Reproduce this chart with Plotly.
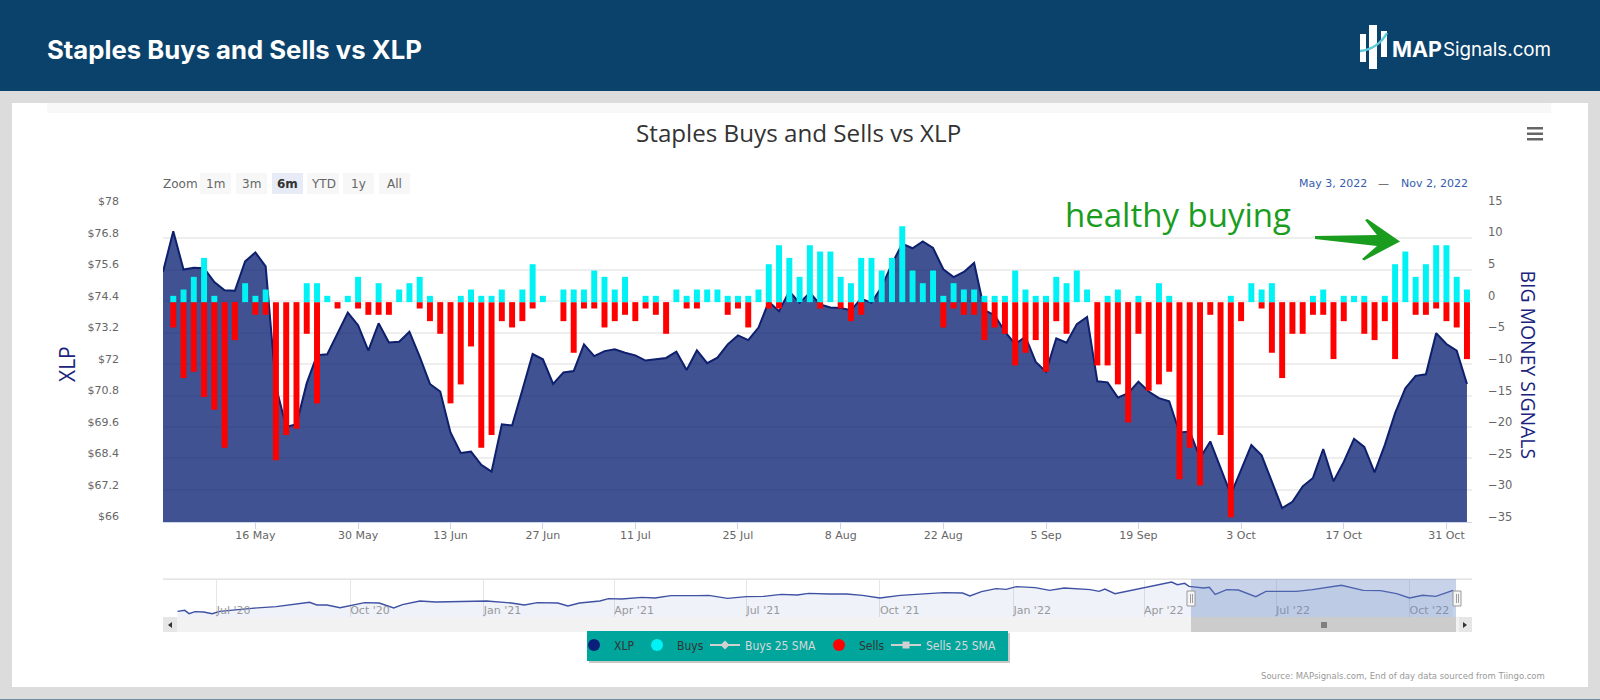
import pandas as pd
import plotly.graph_objects as go

W, H = 1600, 700

# ---- data ----
market_holidays = ["2022-05-30", "2022-06-20", "2022-07-04", "2022-09-05"]
sessions = [d.strftime("%Y-%m-%d") for d in pd.bdate_range("2022-05-03", "2022-11-02")
            if d.strftime("%Y-%m-%d") not in market_holidays]

xlp = [75.51, 77.06, 75.60, 75.67, 75.65, 75.12, 74.81, 74.79, 75.91, 76.25, 75.72, 71.14, 69.60, 69.71, 71.27, 72.34,
       72.37, 73.17, 73.96, 73.48, 72.51, 73.55, 72.82, 72.85, 73.23, 72.28, 71.24, 70.95, 69.39, 68.61, 68.66, 68.16,
       67.90, 69.70, 69.66, 71.01, 72.38, 72.18, 71.24, 71.68, 71.73, 72.75, 72.30, 72.49, 72.56, 72.43, 72.33, 72.13,
       72.17, 72.23, 72.47, 71.77, 72.52, 72.03, 72.24, 72.75, 73.09, 72.91, 73.39, 74.37, 74.01, 74.77, 74.33, 74.72,
       74.27, 74.15, 74.13, 74.05, 74.49, 74.33, 74.94, 75.82, 76.58, 76.41, 76.67, 76.42, 75.61, 75.31, 75.51, 75.85,
       74.05, 73.86, 73.23, 72.76, 73.04, 72.08, 71.71, 72.98, 72.81, 73.52, 73.79, 71.34, 71.30, 70.72, 70.89, 71.33,
       70.95, 70.70, 70.58, 69.39, 69.43, 68.42, 69.05, 68.04, 67.03, 67.97, 68.91, 68.52, 67.53, 66.51, 66.75, 67.34,
       67.66, 68.76, 67.53, 68.27, 69.15, 68.84, 67.87, 68.92, 70.13, 71.08, 71.55, 71.61, 73.17, 72.76, 72.51, 71.24]

buys = [0, 1, 2, 4, 7, 1, 0, 0, 3, 1, 2, 0, 0, 0, 3, 3,
        1, 0, 1, 4, 0, 3, 0, 2, 3, 4, 1, 0, 0, 1, 2, 1,
        1, 2, 0, 2, 6, 1, 0, 2, 2, 2, 5, 4, 2, 4, 0, 1,
        1, 0, 2, 1, 2, 2, 2, 1, 1, 1, 2, 6, 9, 7, 4, 9,
        8, 8, 4, 3, 7, 7, 5, 7, 12, 5, 3, 5, 1, 3, 2, 2,
        1, 1, 1, 5, 2, 1, 1, 4, 3, 5, 2, 0, 1, 2, 0, 1,
        0, 3, 1, 0, 0, 0, 0, 0, 1, 0, 3, 2, 3, 0, 0, 0,
        1, 2, 0, 1, 1, 1, 0, 1, 6, 8, 4, 6, 9, 9, 4, 2]

sells = [0, -4, -12, -11, -15, -17, -23, -6, 0, -2, -2, -25, -21, -20, -5, -16,
         0, -1, 0, -1, -2, -2, -2, 0, 0, -1, -3, -5, -16, -13, -7, -23,
         -21, -3, -4, -3, -1, 0, 0, -3, -8, -1, -1, -4, -3, -2, -3, -1,
         -2, -5, 0, -1, -1, 0, 0, -2, -1, -4, 0, -1, -1, 0, 0, 0,
         -1, 0, -1, -3, -2, 0, 0, 0, 0, 0, 0, 0, -4, -1, -2, -2,
         -6, -4, -5, -10, -8, -6, -11, -3, -5, 0, 0, -10, -10, -13, -19, -5,
         -14, -13, -11, -28, -23, -29, -2, -21, -34, -3, 0, -1, -8, -12, -5, -5,
         -2, -2, -9, -3, 0, -5, -6, -3, -9, 0, -2, -2, -1, -3, -4, -9]

assert len(sessions) == len(xlp) == len(buys) == len(sells) == 128

nav_dates = ["2020-06-04", "2020-06-09", "2020-06-12", "2020-06-16", "2020-06-22", "2020-06-28", "2020-07-03",
             "2020-07-13", "2020-07-25", "2020-08-11", "2020-08-26", "2020-09-03", "2020-09-08", "2020-09-15",
             "2020-09-24", "2020-10-03", "2020-10-11", "2020-10-21", "2020-10-31", "2020-11-06", "2020-11-18",
             "2020-11-29", "2020-12-16", "2021-01-03", "2021-01-20", "2021-01-29", "2021-02-07", "2021-02-21",
             "2021-02-28", "2021-03-08", "2021-03-22", "2021-03-28", "2021-04-06", "2021-04-20", "2021-04-29",
             "2021-05-10", "2021-05-28", "2021-06-05", "2021-06-18", "2021-07-01", "2021-07-13", "2021-07-25",
             "2021-08-05", "2021-08-13", "2021-08-27", "2021-09-08", "2021-09-19", "2021-10-01", "2021-10-15",
             "2021-10-30", "2021-11-14", "2021-11-27", "2021-12-02", "2021-12-10", "2021-12-20", "2021-12-27",
             "2022-01-03", "2022-01-16", "2022-01-26", "2022-02-05", "2022-02-23", "2022-03-01", "2022-03-05",
             "2022-03-12", "2022-03-21", "2022-04-04", "2022-04-13", "2022-04-20", "2022-04-24", "2022-04-29",
             "2022-05-02", "2022-05-12", "2022-05-16", "2022-05-20", "2022-05-28", "2022-06-05", "2022-06-17",
             "2022-06-24", "2022-07-15", "2022-07-26", "2022-08-15", "2022-08-30", "2022-09-11", "2022-09-22",
             "2022-10-01", "2022-10-10", "2022-10-19", "2022-10-25", "2022-10-31"]
nav_xlp = [56.5, 57.25, 54.75, 56.25, 56, 54.75, 56.5, 57.75, 58.75, 60, 61.75, 63.25, 61.25, 61.25, 59.25, 61, 63,
           62.75, 59, 61.5, 64.25, 63.5, 64, 64.25, 62.75, 61.25, 63, 62.75, 60.5, 62.75, 64.25, 66, 65.75, 67, 66.5,
           68.25, 68.25, 68.5, 66.25, 67.5, 67.75, 69.25, 68.75, 70, 69.5, 69.5, 68.5, 66.5, 68.5, 69.25, 70.5, 70.25,
           68, 71.25, 73.5, 73, 75, 74.25, 72.25, 74, 72.75, 71.5, 73.25, 69.75, 71.75, 74.5, 77, 78.5, 76.5, 77.5,
           75.25, 74, 74.5, 69.25, 72.75, 72.5, 67.5, 71.5, 71.5, 72.75, 76, 72.25, 72, 69.75, 66.5, 68.5, 67.75,
           69.75, 72.25]

left_ticks = [66, 67.2, 68.4, 69.6, 70.8, 72, 73.2, 74.4, 75.6, 76.8, 78]
left_labels = ["$66", "$67.2", "$68.4", "$69.6", "$70.8", "$72", "$73.2", "$74.4", "$75.6", "$76.8", "$78"]
right_ticks = [-35, -30, -25, -20, -15, -10, -5, 0, 5, 10, 15]
right_labels = ["\u221235", "\u221230", "\u221225", "\u221220", "\u221215", "\u221210", "\u22125", "0", "5", "10", "15"]
x_tick_dates = ["2022-05-16", "2022-05-31", "2022-06-13", "2022-06-27", "2022-07-11", "2022-07-25", "2022-08-08",
                "2022-08-22", "2022-09-06", "2022-09-19", "2022-10-03", "2022-10-17", "2022-10-31"]
x_tick_labels = ["16 May", "30 May", "13 Jun", "27 Jun", "11 Jul", "25 Jul", "8 Aug", "22 Aug", "5 Sep", "19 Sep",
                 "3 Oct", "17 Oct", "31 Oct"]
nav_tick_dates = ["2020-07-01", "2020-10-01", "2021-01-01", "2021-04-01", "2021-07-01", "2021-10-01", "2022-01-01",
                  "2022-04-01", "2022-07-01", "2022-10-01"]
nav_tick_labels = ["Jul '20", "Oct '20", "Jan '21", "Apr '21", "Jul '21", "Oct '21", "Jan '22", "Apr '22", "Jul '22",
                   "Oct '22"]
zoom_buttons = ["1m", "3m", "6m", "YTD", "1y", "All"]

# ---- pixel helpers (page furniture only) ----
fx = lambda p: p / W
fy = lambda p: 1 - p / H


def rect(x0, y0, x1, y1, fill, layer="below", line=None):
    return dict(type="rect", xref="paper", yref="paper", x0=fx(x0), x1=fx(x1), y0=fy(y0), y1=fy(y1),
                fillcolor=fill, line=line or dict(width=0), layer=layer)


def path(cmds, fill=None, line=None, layer="above"):
    parts = []
    for c in cmds:
        if isinstance(c, str):
            parts.append(c)
        else:
            parts.append(f"{fx(c[0]):.5f},{fy(c[1]):.5f}")
    d = dict(type="path", xref="paper", yref="paper", path=" ".join(parts), layer=layer, line=line or dict(width=0))
    if fill:
        d["fillcolor"] = fill
    return d


def text(s, x, y, size, color, family="DejaVu Sans", anchor="left", angle=0):
    return dict(text=s, x=fx(x), y=fy(y), xref="paper", yref="paper", showarrow=False, xanchor=anchor,
                yanchor="middle", font=dict(size=size, color=color, family=family), textangle=angle,
                borderpad=0, borderwidth=0)


LABEL = "#666666"
NAVY = "#1a237e"
plot_l, plot_r, plot_t, plot_b = 163, 1472, 206, 522
nav_t, nav_b = 579, 617

shapes = [
    rect(0, 0, W, 91, "#0b426b"),
    rect(12, 103, 1588, 687, "#ffffff"),
    rect(47, 103, 1551, 113, "#f8f8f8"),
    rect(0, 699, W, 700, "#6f8ea3"),
    # logo
    rect(1360, 34, 1366, 62, "#ffffff"), rect(1369, 25, 1377, 69, "#ffffff"), rect(1381, 31, 1387, 57, "#ffffff"),
    path(["M", (1360, 51), "Q", (1378, 49), (1387, 33)], line=dict(color="#5fc9dc", width=2.5)),
    # hamburger
    rect(1527, 127, 1543, 129.5, "#666666"), rect(1527, 132.5, 1543, 135, "#666666"),
    rect(1527, 138, 1543, 140.5, "#666666"),
    # arrow next to the note
    path(["M", (1315, 236), "L", (1377, 235), "L", (1365, 220), "L", (1367.5, 219), "L", (1400, 241.5), "L", (1364, 260.5),
          "L", (1362, 259), "L", (1377, 246), "L", (1315, 239), "Z"], fill="#1a9c1e"),
    # navigator furniture
    rect(plot_l, nav_t - 0.5, plot_r, nav_t + 0.8, "#dddddd"),
    rect(plot_l, nav_b, plot_r, 632, "#f2f2f2"),
    rect(plot_l, nav_b, 177, 632, "#e6e6e6"),
    rect(1459, nav_b, plot_r, 632, "#e6e6e6"),
    rect(1191, nav_b, 1456, 632, "#cccccc"),
    rect(1191, nav_t, 1456, nav_b, "rgba(102,133,194,0.36)", layer="above"),
    rect(1187, 591, 1195, 606, "#f5f5f5", layer="above", line=dict(color="#999999", width=1)),
    rect(1453, 591, 1461, 606, "#f5f5f5", layer="above", line=dict(color="#999999", width=1)),
    path(["M", (172, 622), "L", (168, 625), "L", (172, 628), "Z"], fill="#333333"),
    path(["M", (1463, 622), "L", (1467, 625), "L", (1463, 628), "Z"], fill="#333333"),
    # legend box
    rect(589, 633, 1010, 663, "#c8c8c8"),
    rect(587, 631, 1008, 661, "#00a69c"),
]
# navigator handle grips and scrollbar thumb grip
for gx in (1190, 1192):
    shapes.append(rect(gx, 594, gx + 0.8, 603, "#888888", layer="above"))
for gx in (1456, 1458):
    shapes.append(rect(gx, 594, gx + 0.8, 603, "#888888", layer="above"))
for gx in (1321.5, 1323.5, 1325.5):
    shapes.append(rect(gx, 622, gx + 1, 628, "#333333"))

btn_x = [(200, 231), (236, 267), (272, 303), (307, 339), (343, 374), (379, 410)]
annotations = [
    text("<b>Staples Buys and Sells vs XLP</b>", 47, 49, 25.7, "#ffffff", "Inter"),
    text("<b>MAP</b>", 1392, 49, 21.5, "#ffffff", "Inter"),
    text("Signals.com", 1443, 50, 18.8, "#ffffff", "Inter"),
    text("Staples Buys and Sells vs XLP", 798, 133, 24.2, "#333333", "Open Sans", "center"),
    text("Zoom", 163, 184, 12, LABEL),
    text("May 3, 2022", 1299, 183, 11, "#335cad"),
    text("\u2014", 1383, 183, 11, "#555555", anchor="center"),
    text("Nov 2, 2022", 1468, 183, 11, "#335cad", anchor="right"),
    text("XLP", 67, 364, 21, NAVY, "Open Sans", "center", -90),
    text("BIG MONEY SIGNALS", 1528, 364.5, 19.4, NAVY, "Open Sans", "center", 90),
    text("healthy buying", 1065, 214, 33, "#1a9c1e", "Open Sans"),
    text("Source: MAPsignals.com, End of day data sourced from Tiingo.com", 1545, 676, 8.5, "#999999", anchor="right"),
]
for (x0, x1), lab in zip(btn_x, zoom_buttons):
    on = lab == "6m"
    shapes.append(rect(x0, 173, x1, 194, "#e6ebf5" if on else "#f7f7f7"))
    annotations.append(text(f"<b>{lab}</b>" if on else lab, (x0 + x1) / 2, 184, 12, "#333333" if on else LABEL, anchor="center"))

fig = go.Figure()
fig.add_trace(go.Scatter(x=sessions, y=xlp, mode="lines", name="XLP", showlegend=False, fill="tozeroy",
                         line=dict(color="#0d1f6d", width=2), fillcolor="rgba(10,33,114,0.78)",
                         xaxis="x", yaxis="y"))
fig.add_trace(go.Bar(x=sessions, y=sells, name="Sells", showlegend=False, marker=dict(color="#ff0000", line_width=0),
                     width=0.58, xaxis="x", yaxis="y2"))
fig.add_trace(go.Bar(x=sessions, y=buys, name="Buys", showlegend=False, marker=dict(color="#00f2f5", line_width=0),
                     width=0.58, xaxis="x", yaxis="y2"))
fig.add_trace(go.Scatter(x=nav_dates, y=nav_xlp, mode="lines", showlegend=False, name="XLP navigator", fill="tozeroy",
                         line=dict(color="#3f51a3", width=1.4), fillcolor="rgba(51,92,173,0.08)",
                         xaxis="x2", yaxis="y5"))
# empty traces keep the two label-only axes on the page
for ax in ("y3", "y4"):
    fig.add_trace(go.Scatter(x=[None], y=[None], mode="lines", showlegend=False, hoverinfo="skip", xaxis="x", yaxis=ax))

# legend: one small legend per entry so that each sits where the original has it
legend_items = [
    ("XLP", "markers", "#0a1f7a", "circle", 574, "#333333"),
    ("Buys", "markers", "#00f2f5", "circle", 637, "#333333"),
    ("Buys 25 SMA", "lines+markers", "#d0d0d0", "diamond", 705, "#d8d8d8"),
    ("Sells", "markers", "#ff0000", "circle", 819, "#333333"),
    ("Sells 25 SMA", "lines+markers", "#d0d0d0", "square", 886, "#d8d8d8"),
]
legends = {}
for k, (name, mode, color, sym, lx, fcol) in enumerate(legend_items, start=1):
    key = "legend" if k == 1 else f"legend{k}"
    fig.add_trace(go.Scatter(x=[None], y=[None], mode=mode, name=name, legend=key,
                             marker=dict(color=color, symbol=sym, size=12 if mode == "markers" else 7),
                             line=dict(color=color, width=2), xaxis="x", yaxis="y"))
    legends[key] = dict(x=fx(lx), y=fy(645), xanchor="left", yanchor="middle", bgcolor="rgba(0,0,0,0)",
                        borderwidth=0, itemwidth=30, font=dict(size=12, color=fcol, family="DejaVu Sans Condensed"),
                        itemclick=False, itemdoubleclick=False)

dom_y = [fy(plot_b), fy(plot_t)]
sig_range = [-34.75, 15.2]
price_range = [65.98, 78.02]
sig_labels_range = [-35.5, 15.2]
fig.update_layout(
    width=W, height=H, margin=dict(l=0, r=0, t=0, b=0, autoexpand=False), autosize=False,
    paper_bgcolor="#dcdcdc", plot_bgcolor="rgba(0,0,0,0)", barmode="overlay", hovermode=False,
    shapes=shapes, annotations=annotations, **legends,
    xaxis=dict(type="category", domain=[fx(plot_l), fx(plot_r)], range=[0, 127.49], anchor="y",
               categoryorder="array", categoryarray=sessions,
               tickmode="array", tickvals=x_tick_dates, ticktext=x_tick_labels, ticks="outside", ticklen=6,
               tickcolor="#ccd6eb", showline=True, linecolor="#ccd6eb", linewidth=1, showgrid=False,
               ticklabelstandoff=-3,
               tickfont=dict(size=11, color=LABEL, family="DejaVu Sans")),
    yaxis=dict(domain=dom_y, range=price_range, anchor="x", tickmode="array", tickvals=left_ticks,
               showticklabels=False, gridcolor="#eeeeee", gridwidth=1.5, zeroline=False, ticks=""),
    yaxis2=dict(overlaying="y", side="right", range=sig_range, anchor="x", showgrid=False, zeroline=False,
                showticklabels=False, ticks=""),
    # tick labels sit a few pixels above their gridlines, as in the original
    yaxis3=dict(domain=[fy(plot_b - 5.3), fy(plot_t - 5.3)], range=price_range, anchor="x", side="left",
                tickmode="array", tickvals=left_ticks, ticktext=left_labels, showgrid=False, zeroline=False,
                ticks="", ticklabelstandoff=43, tickfont=dict(size=11, color=LABEL, family="DejaVu Sans")),
    yaxis4=dict(domain=[fy(plot_b + 4.75 - 6.5), fy(plot_t - 6.5)], range=sig_labels_range, anchor="x", side="right",
                tickmode="array", tickvals=right_ticks, ticktext=right_labels, showgrid=False, zeroline=False,
                ticks="", ticklabelstandoff=15, tickfont=dict(size=11.5, color=LABEL, family="DejaVu Sans")),
    xaxis2=dict(type="date", domain=[fx(plot_l), fx(plot_r)], range=["2020-05-25", "2022-11-13"], anchor="y5",
                tickmode="array", tickvals=nav_tick_dates, ticktext=nav_tick_labels, ticks="", showline=False,
                showgrid=True, gridcolor="#e6e6e6", gridwidth=1, ticklabelposition="inside right",
                ticklabelstandoff=-5,
                tickfont=dict(size=11, color="#999999", family="DejaVu Sans")),
    yaxis5=dict(domain=[fy(nav_b), fy(nav_t)], range=[52.25, 80.75], anchor="x2", showgrid=False, zeroline=False,
                showticklabels=False, ticks=""),
)
fig.write_html("out.html", post_script="document.body.style.margin='0';", config=dict(displayModeBar=False))
